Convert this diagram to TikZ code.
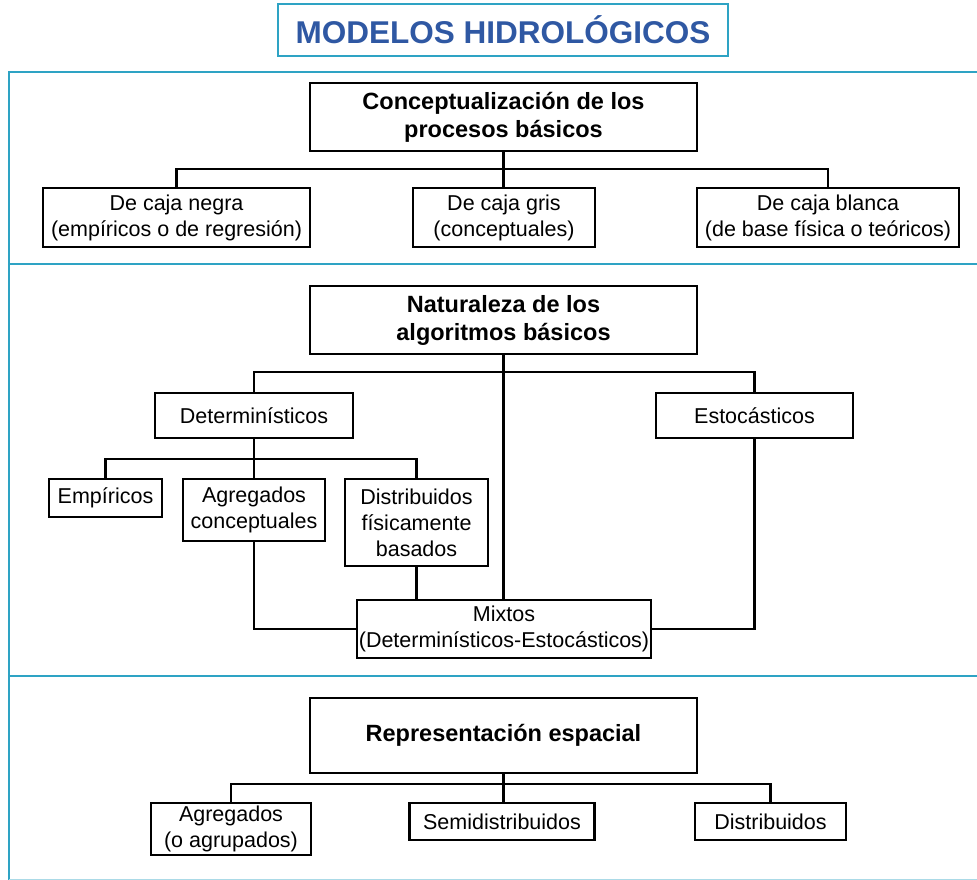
\documentclass[tikz,border=0pt]{standalone}
\usepackage{fontspec}
\setmainfont{Liberation Sans}
\definecolor{framecol}{HTML}{2EA3C4}
\definecolor{titlecol}{HTML}{2F58A3}
\begin{document}
\begin{tikzpicture}[x=1pt,y=-1pt,
  frameline/.style={draw=framecol,line width=2.8pt},
  box/.style={draw,line width=2.4pt,align=center,inner sep=0pt,
    font=\fontsize{21.5}{26}\selectfont},
  headbox/.style={box,font=\bfseries\fontsize{23.5}{28}\selectfont},
  link/.style={line width=2.4pt}]
\useasboundingbox (0,0) rectangle (977,880);
\fill[white] (0,0) rectangle (977,880);

% title
\node[draw=framecol,line width=2.8pt,minimum width=450pt,minimum height=52pt,
  inner sep=0pt,text=titlecol,font=\bfseries\fontsize{31.5}{36}\selectfont]
  (title) at (503,30) {MODELOS HIDROLÓGICOS};

% section frames
\draw[frameline] (980,72) -- (9,72) -- (9,880);
\draw[framecol!40,line width=1.5pt] (9,879.5) -- (980,879.5);
\draw[frameline] (9,264) -- (980,264);
\draw[frameline] (9,676) -- (980,676);

% section 1
\node[headbox,minimum width=387pt,minimum height=68pt] (concept) at (503.5,117)
  {Conceptualización de los\\procesos básicos};
\node[box,minimum width=267pt,minimum height=59pt] (negra) at (176.5,217.5)
  {De caja negra\\(empíricos o de regresión)};
\node[box,minimum width=182pt,minimum height=59pt] (gris) at (504,217.5)
  {De caja gris\\(conceptuales)};
\node[box,minimum width=262pt,minimum height=59pt] (blanca) at (828,217.5)
  {De caja blanca\\(de base física o teóricos)};
\draw[link] (concept.south) -- (concept.south |- gris.north);
\draw[link] (negra.north) -- ++(0,-18) -| (blanca.north);

% section 2
\node[headbox,minimum width=387pt,minimum height=68pt] (natur) at (503.5,320)
  {Naturaleza de los\\algoritmos básicos};
\node[box,minimum width=198pt,minimum height=45pt] (deter) at (254,415.5)
  {Determinísticos};
\node[box,minimum width=197pt,minimum height=45pt] (estoc) at (754.5,415.5)
  {Estocásticos};
\node[box,minimum width=113pt,minimum height=38pt] (empir) at (105.5,498)
  {Empíricos};
\node[box,minimum width=142pt,minimum height=62pt] (agrcon) at (254,510)
  {Agregados\\conceptuales};
\node[box,minimum width=143pt,minimum height=87pt] (distfis) at (416.5,522.5)
  {Distribuidos\\físicamente\\basados};
\node[box,minimum width=294pt,minimum height=58pt] (mixtos) at (504,629)
  {Mixtos\\(Determinísticos-Estocásticos)};
\draw[link] (deter.north) -- ++(0,-20) -| (estoc.north);
\draw[link] (natur.south) -- (natur.south |- mixtos.north);
\draw[link] (deter.south) -- (agrcon.north);
\draw[link] (empir.north) -- ++(0,-19) -| (distfis.north);
\draw[link] (agrcon.south) |- (mixtos.west);
\draw[link] (distfis.south) -- (distfis.south |- mixtos.north);
\draw[link] (estoc.south) |- (mixtos.east);

% section 3
\node[headbox,minimum width=387pt,minimum height=75pt] (repres) at (503.5,735.5)
  {Representación espacial};
\node[box,minimum width=160pt,minimum height=52pt] (agrup) at (231,829)
  {Agregados\\(o agrupados)};
\node[box,minimum width=185pt,minimum height=37pt] (semi) at (502,821.5)
  {Semidistribuidos};
\node[box,minimum width=151pt,minimum height=37pt] (distr) at (770.5,821.5)
  {Distribuidos};
\draw[link] (repres.south) -- (repres.south |- semi.north);
\draw[link] (agrup.north) -- ++(0,-18) -| (distr.north);
\end{tikzpicture}
\end{document}
